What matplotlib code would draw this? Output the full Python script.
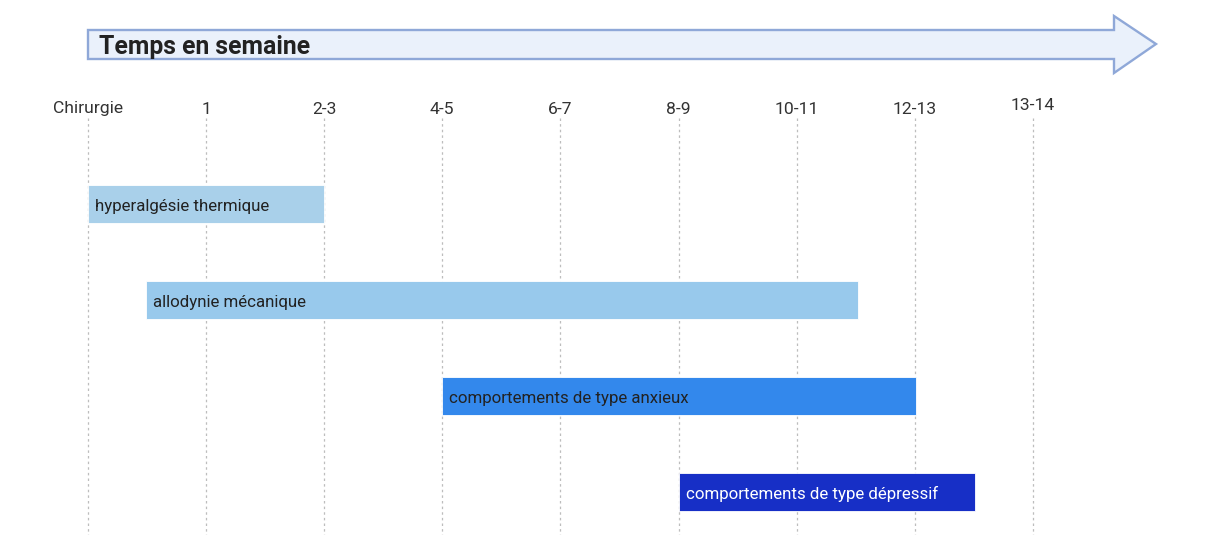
import matplotlib
matplotlib.use("Agg")
import matplotlib.pyplot as plt
from matplotlib.patches import Polygon

plt.rcParams['font.family'] = ['Roboto', 'DejaVu Sans']

# ---- data ----
tick_labels = ["Chirurgie", "1", "2-3", "4-5", "6-7", "8-9", "10-11", "12-13", "13-14"]
tick_pos = [0, 1, 2, 3, 4, 5, 6, 7, 8]
bar_labels = ["hyperalgésie thermique", "allodynie mécanique",
              "comportements de type anxieux", "comportements de type dépressif"]
bar_start = [0.0, 0.49, 3.0, 5.0]
bar_end = [2.0, 6.52, 7.01, 7.51]
bar_colors = ["#a9d0ea", "#98c9ec", "#3388ec", "#172fc6"]
text_colors = ["#222222", "#222222", "#222222", "#ffffff"]
title = "Temps en semaine"

W, H = 1211, 535
fig = plt.figure(figsize=(W / 100, H / 100), dpi=100)
ax = fig.add_axes([0, 0, 1, 1])
x0px, dxpx = 88, 118.1
y0px, dypx = 204, 96
ax.set_xlim((0 - x0px) / dxpx, (W - x0px) / dxpx)
ax.set_ylim((H - y0px) / dypx, (0 - y0px) / dypx)
ax.axis('off')

# gridlines
ax.vlines(tick_pos, (118 - y0px) / dypx, (H - y0px) / dypx, colors="#bdbdbd",
          linestyles=(0, (2, 2.5)), linewidth=0.9, zorder=0)

# tick labels
for p, lab in zip(tick_pos, tick_labels):
    yy = (106 - y0px) / dypx if lab == "13-14" else (109 - y0px) / dypx
    ax.text(p, yy, lab, ha='center', va='center', fontsize=12.6, color="#333333")

# bars
for i, (s, e, c, lab, tc) in enumerate(zip(bar_start, bar_end, bar_colors, bar_labels, text_colors)):
    ax.barh(i, e - s, left=s, height=0.39, color=c, edgecolor='white', linewidth=0.6, zorder=2)
    ax.text(s + 7 / dxpx, i + 2 / dypx, lab, ha='left', va='center', fontsize=12.2,
            color=tc, zorder=3)

# arrow
def fp(x, y):
    return (x / W, 1 - y / H)

pts = [fp(88, 30), fp(1114, 30), fp(1114, 16), fp(1156, 44), fp(1114, 73),
       fp(1114, 59), fp(88, 59)]
arrow = Polygon(pts, closed=True, facecolor="#eaf1fb", edgecolor="#8fa8d8",
                linewidth=1.7, transform=fig.transFigure)
fig.add_artist(arrow)
fig.text(99 / W, 1 - 47 / H, title, ha='left', va='center', fontsize=17.8,
         fontweight='bold', color="#222222")

fig.savefig("out.png", dpi=100)
